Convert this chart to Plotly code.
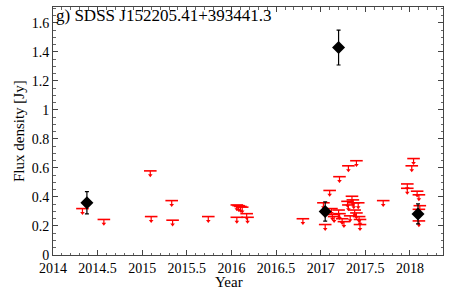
import plotly.graph_objects as go

# Upper limits (year, flux upper limit in Jy)
ul_year = [2014.33, 2014.57, 2015.09, 2015.10, 2015.33, 2015.34, 2015.74,
           2016.06, 2016.08, 2016.10, 2016.12, 2016.06, 2016.17, 2016.18,
           2016.80, 2017.03, 2017.05, 2017.10, 2017.12, 2017.13, 2017.15,
           2017.21, 2017.20, 2017.21, 2017.24, 2017.26, 2017.30, 2017.31,
           2017.31, 2017.33, 2017.35, 2017.36, 2017.37, 2017.38, 2017.40,
           2017.40, 2017.42, 2017.43, 2017.44, 2017.44, 2017.70, 2017.97,
           2017.97, 2018.02, 2018.04, 2018.08, 2018.10, 2018.11, 2018.10,
           2018.10]
ul_flux = [0.32, 0.245, 0.58, 0.265, 0.375, 0.24, 0.265,
           0.345, 0.34, 0.335, 0.33, 0.26, 0.285, 0.26,
           0.25, 0.36, 0.21, 0.445, 0.32, 0.28, 0.265,
           0.54, 0.31, 0.285, 0.25, 0.23, 0.37, 0.345,
           0.615, 0.27, 0.405, 0.38, 0.36, 0.31, 0.65,
           0.29, 0.36, 0.265, 0.245, 0.21, 0.375, 0.49,
           0.46, 0.615, 0.665, 0.44, 0.415, 0.34, 0.315,
           0.235]

# Detections
det_year = [2014.38, 2017.05, 2017.20, 2018.09]
det_flux = [0.36, 0.30, 1.43, 0.283]
det_err = [0.077, 0.066, 0.12, 0.069]

x_ticks = [2014, 2014.5, 2015, 2015.5, 2016, 2016.5, 2017, 2017.5, 2018]
x_tick_labels = ["2014", "2014.5", "2015", "2015.5", "2016", "2016.5", "2017", "2017.5", "2018"]
y_ticks = [0, 0.2, 0.4, 0.6, 0.8, 1.0, 1.2, 1.4, 1.6]
y_tick_labels = ["0", "0.2", "0.4", "0.6", "0.8", "1", "1.2", "1.4", "1.6"]

title_text = "g) SDSS J152205.41+393441.3"
x_label = "Year"
y_label = "Flux density [Jy]"
arrow_len = 0.03

fig = go.Figure()

# upper-limit bars with downward stems
fig.add_trace(go.Scatter(
    x=ul_year, y=ul_flux, mode="markers",
    marker=dict(symbol="line-ew", size=9, line=dict(color="red", width=1.6)),
    error_y=dict(type="data", symmetric=False, array=[0] * len(ul_flux),
                 arrayminus=[arrow_len] * len(ul_flux), width=0,
                 color="red", thickness=1.2),
    showlegend=False, hoverinfo="x+y"))
# arrowheads
fig.add_trace(go.Scatter(
    x=ul_year, y=[v - arrow_len for v in ul_flux], mode="markers",
    marker=dict(symbol="triangle-down", size=4, color="red"),
    showlegend=False, hoverinfo="skip"))

# detections
fig.add_trace(go.Scatter(
    x=det_year, y=det_flux, mode="markers",
    marker=dict(symbol="diamond", size=10, color="black"),
    error_y=dict(type="data", array=det_err, width=2, color="black", thickness=1.2),
    showlegend=False))

serif = "Liberation Serif"
fig.update_layout(
    width=458, height=294,
    margin=dict(l=53, r=15, t=7, b=39, autoexpand=False),
    paper_bgcolor="white", plot_bgcolor="white",
    font=dict(family=serif, size=14, color="black"),
    annotations=[
        dict(text=title_text, xref="paper", yref="paper", x=0, y=1,
             xanchor="left", yanchor="top", xshift=1, yshift=3, showarrow=False,
             font=dict(family=serif, size=17, color="black")),
        dict(text=x_label, xref="paper", yref="paper", x=0.451, y=0,
             xanchor="center", yanchor="middle", yshift=-27, showarrow=False,
             font=dict(family=serif, size=15, color="black")),
        dict(text=y_label, xref="paper", yref="paper", x=0, y=0.5, textangle=-90,
             xanchor="center", yanchor="middle", xshift=-34, showarrow=False,
             font=dict(family=serif, size=15, color="black")),
    ],
)
fig.update_xaxes(
    range=[2014, 2018.37], tickvals=x_ticks, ticktext=x_tick_labels,
    ticks="inside", ticklen=5, tickcolor="#444", showgrid=False, zeroline=False,
    showline=True, linecolor="#444", linewidth=1, mirror="allticks", automargin=False,
    minor=dict(dtick=0.1, tick0=2014, ticks="inside", ticklen=2.5, tickcolor="#666", showgrid=False),
    tickfont=dict(family=serif, size=14))
fig.update_yaxes(
    range=[0, 1.71], tickvals=y_ticks, ticktext=y_tick_labels,
    ticks="inside", ticklen=5, tickcolor="#444", showgrid=False, zeroline=False,
    showline=True, linecolor="#444", linewidth=1, mirror="allticks", automargin=False,
    minor=dict(dtick=0.05, tick0=0, ticks="inside", ticklen=2.5, tickcolor="#666", showgrid=False),
    tickfont=dict(family=serif, size=14))

fig.write_html("out.html", config={"displayModeBar": False},
               post_script="document.body.style.margin='0';")
